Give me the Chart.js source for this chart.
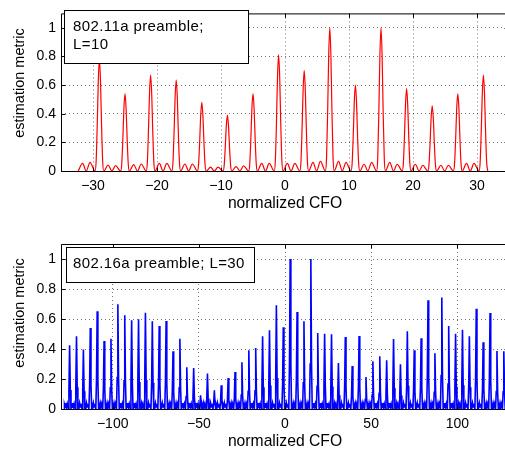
<!DOCTYPE html>
<html><head><meta charset="utf-8">
<script src="https://cdn.jsdelivr.net/npm/chart.js@4/dist/chart.umd.min.js"></script>
<style>
html,body{margin:0;padding:0;background:#fff;overflow:hidden;width:505px;height:451px;position:relative;}
canvas{position:absolute;left:0;}
#c1{top:0}
#c2{top:225px}
</style></head><body>
<canvas id="c1" width="509" height="225"></canvas>
<canvas id="c2" width="509" height="226"></canvas>
<script>
// ===== Data =====
// Top panel: 802.11a preamble, L=10
const xTicksA = [-30,-20,-10,0,10,20,30];
const yTicks = [0,0.2,0.4,0.6,0.8,1];
const peakCfoA = [-29,-25,-21,-17,-13,-9,-5,-1,3,7,11,15,19,23,27,31];
const peakHeightA = [0.78,0.54,0.67,0.635,0.48,0.39,0.54,0.81,0.70,1.0,0.60,1.0,0.575,0.455,0.54,0.67];
// side-lobe heights in the gap before each peak
const sidelobeA1 = [0.053,0.042,0.044,0.053,0.049,0.027,0.031,0.053,0.053,0.060,0.067,0.047,0.060,0.047,0.040,0.053];
const sidelobeA2 = [0.060,0.037,0.049,0.053,0.049,0.027,0.036,0.053,0.053,0.067,0.060,0.060,0.047,0.040,0.040,0.053];
const sideOffsetA = [-2.63,-2.05,-1.47];
const lobeOffsetA = [-0.68,-0.51,-0.34,-0.17,0,0.17,0.34,0.51,0.68];
const lobeShapeA  = [0,0.09,0.405,0.81,1,0.81,0.405,0.09,0];

// Bottom panel: 802.16a preamble, L=30
const xTicksB = [-100,-50,0,50,100];
const peakCfoB = [-125,-121,-117,-113,-109,-105,-101,-97,-93,-89,-85,-81,-77,-73,-69,-65,
  -61,-57,-53,-49,-45,-41,-37,-33,-29,-25,-21,-17,-13,-9,-5,-1,
  3,7,11,15,19,23,27,31,35,39,43,47,51,55,59,63,
  67,71,75,79,83,87,91,95,99,103,107,111,115,119,123,127];
const peakHeightB = [0.425,0.485,0.397,0.54,0.651,0.453,0.469,0.698,0.625,0.591,0.598,0.642,0.585,0.553,0.587,0.385,
  0.469,0.278,0.273,0.091,0.236,0.125,0.158,0.207,0.247,0.311,0.391,0.407,0.485,0.525,0.691,0.545,
  1.0,0.647,0.585,1.0,0.507,0.502,0.498,0.307,0.48,0.287,0.487,0.213,0.318,0.351,0.325,0.467,
  0.298,0.518,0.391,0.471,0.725,0.371,0.743,0.553,0.502,0.529,0.485,0.669,0.445,0.64,0.387,0.385];
const floorOffsetB = [1.0,1.4,1.8,2.2,2.6,3.0];
const floorLevelB  = [0.03,0.012,0.04,0.014,0.035,0.01];
const lobeOffsetB = [-0.8,-0.4,0,0.4,0.8];
const lobeShapeB  = [0,0.3,1,0.3,0];

// ===== Build point tables =====
function buildA(){
  const pts=[];
  for(let i=0;i<peakCfoA.length;i++){
    const c=peakCfoA[i];
    if(i===0) pts.push({x:c-3.32,y:0});
    pts.push({x:c+sideOffsetA[0],y:sidelobeA1[i]},{x:c+sideOffsetA[1],y:0},{x:c+sideOffsetA[2],y:sidelobeA2[i]});
    for(let j=0;j<lobeOffsetA.length;j++) pts.push({x:c+lobeOffsetA[j],y:peakHeightA[i]*lobeShapeA[j]});
  }
  return pts;
}
function buildB(){
  const pts=[];
  for(let i=0;i<peakCfoB.length;i++){
    const c=peakCfoB[i];
    if(i===0){ pts.push({x:c-4+0.8,y:0}); for(let j=0;j<floorOffsetB.length;j++) pts.push({x:c-4+floorOffsetB[j],y:floorLevelB[j]}); }
    for(let j=0;j<lobeOffsetB.length;j++) pts.push({x:c+lobeOffsetB[j],y:peakHeightB[i]*lobeShapeB[j]});
    for(let j=0;j<floorOffsetB.length;j++) pts.push({x:c+floorOffsetB[j],y:floorLevelB[j]});
  }
  return pts;
}

const FONT = '"Liberation Sans", Arial, Helvetica, sans-serif';
const fmt = v => (v<0 ? '\u2212'+Math.abs(v) : String(v));

const framePlugin = {
  id:'frame',
  afterDraw(chart, args, o){
    const {ctx, chartArea:a, scales:{x,y}} = chart;
    ctx.save();
    ctx.strokeStyle='#000'; ctx.lineWidth=1;
    const L=a.left+0.5, R=a.right-0.5, T=a.top+0.5, B=a.bottom+0.5;
    ctx.beginPath();
    ctx.moveTo(L,T); ctx.lineTo(R,T); ctx.lineTo(R,B); ctx.lineTo(L,B); ctx.closePath();
    x.ticks.forEach(t=>{ const px=Math.round(x.getPixelForValue(t.value))+0.5; ctx.moveTo(px,B); ctx.lineTo(px,B-4); ctx.moveTo(px,T); ctx.lineTo(px,T+4); });
    y.ticks.forEach(t=>{ const py=Math.round(y.getPixelForValue(t.value))+0.5; ctx.moveTo(L,py); ctx.lineTo(L+4,py); ctx.moveTo(R,py); ctx.lineTo(R-4,py); });
    ctx.stroke();
    // y-axis title
    ctx.fillStyle='#000';
    ctx.save();
    ctx.translate(o.yTitle[0], o.yTitle[1]); ctx.rotate(-Math.PI/2);
    ctx.font='14.5px '+FONT; ctx.textAlign='center'; ctx.textBaseline='middle';
    ctx.fillText('estimation metric',0,0);
    ctx.restore();
    // annotation text box
    ctx.fillStyle='#fff';
    ctx.fillRect(o.box[0],o.box[1],o.box[2],o.box[3]);
    ctx.strokeRect(o.box[0]+0.5,o.box[1]+0.5,o.box[2],o.box[3]);
    ctx.fillStyle='#000'; ctx.font='15px '+FONT; ctx.textBaseline='alphabetic'; ctx.textAlign='left';
    if('letterSpacing' in ctx) ctx.letterSpacing='0.4px';
    o.lines.forEach((s,i)=>ctx.fillText(s,o.tx,o.ty+i*o.lh));
    ctx.restore();
  }
};

function makeChart(id, pts, color, lw, xMin, xMax, xTicks, cfg){
  return new Chart(document.getElementById(id), {
    type:'line',
    data:{datasets:[{data:pts, borderColor:color, borderWidth:lw, pointRadius:0, fill:false,
      cubicInterpolationMode: cfg.mono ? 'monotone' : 'default', tension:0}]},
    options:{
      responsive:false, animation:false, events:[],
      layout:{padding:{top:cfg.padTop,left:0,right:0,bottom:0}},
      plugins:{legend:{display:false}, tooltip:{enabled:false}, frame:cfg.frame},
      scales:{
        x:{type:'linear', min:xMin, max:xMax,
          afterBuildTicks:s=>{s.ticks=xTicks.map(v=>({value:v}));},
          afterFit:s=>{s.height=cfg.xH;},
          ticks:{font:{family:FONT,size:14}, color:'#000', padding:7, maxRotation:0, autoSkip:false, callback:v=>fmt(v)},
          grid:{color:'rgba(0,0,0,0.55)', lineWidth:1, drawTicks:false},
          border:{display:false, dash:[1,3]},
          title:{display:true, text:'normalized CFO', color:'#000', font:{family:FONT,size:15.7}, padding:{top:0,bottom:cfg.titlePad}}
        },
        y:{type:'linear', min:0, max:1.1,
          afterBuildTicks:s=>{s.ticks=yTicks.map(v=>({value:v}));},
          afterFit:s=>{s.width=61;},
          ticks:{font:{family:FONT,size:14}, color:'#000', padding:5, autoSkip:false, callback:v=>fmt(v)},
          grid:{color:'rgba(0,0,0,0.55)', lineWidth:1, drawTicks:false},
          border:{display:false, dash:[1,3]},
          title:{display:false}
        }
      }
    },
    plugins:[framePlugin]
  });
}

makeChart('c1', buildA(), '#ff0000', 1.2, -35, 35, xTicksA,
  {mono:true, padTop:6, xH:54, titlePad:12,
   frame:{box:[64,10,184,53], lines:['802.11a preamble;','L=10'], tx:73, ty:31, lh:18, yTitle:[20,83]}});
makeChart('c2', buildB(), '#0000ff', 1.6, -130, 130, xTicksB,
  {mono:false, padTop:19, xH:42, titlePad:0,
   frame:{box:[66,22,188,35], lines:['802.16a preamble; L=30'], tx:73, ty:43, lh:18, yTitle:[20,88]}});
</script>
</body></html>
